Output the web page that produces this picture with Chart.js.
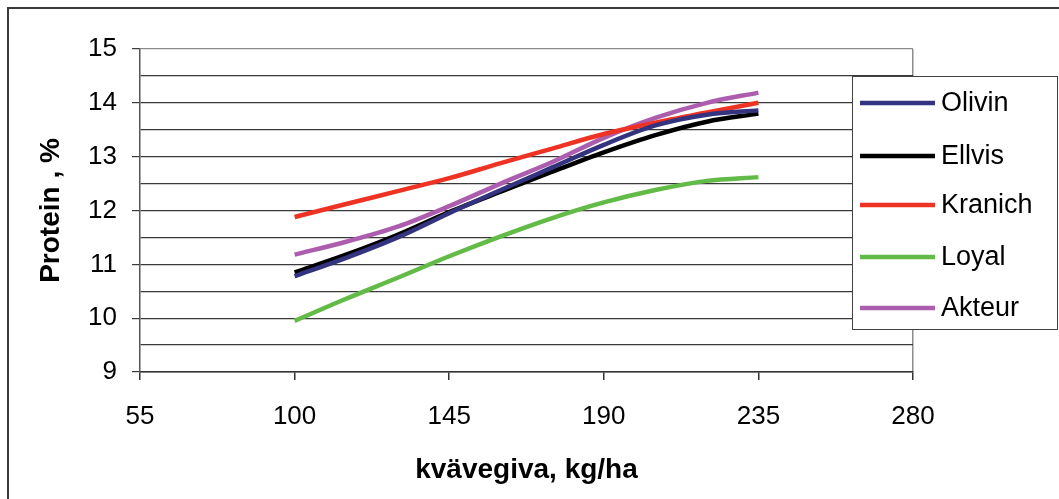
<!DOCTYPE html>
<html>
<head>
<meta charset="utf-8">
<script src="https://cdn.jsdelivr.net/npm/chart.js@4"></script>
<style>
  body { margin: 0; background: #fff; }
  canvas { display: block; }
</style>
</head>
<body>
<canvas id="proteinChart" width="1059" height="499"></canvas>
<script>
// kvävegiva (kg/ha) where values were read
const nitrogen = [100, 115, 130, 145, 160, 175, 190, 205, 220, 235];
const olivin  = [10.78, 11.12, 11.50, 11.95, 12.38, 12.80, 13.22, 13.58, 13.78, 13.86];
const ellvis  = [10.85, 11.18, 11.55, 11.97, 12.35, 12.72, 13.08, 13.40, 13.65, 13.80];
const kranich = [11.88, 12.12, 12.36, 12.60, 12.88, 13.15, 13.42, 13.63, 13.82, 14.00];
const loyal   = [9.95, 10.36, 10.75, 11.15, 11.52, 11.86, 12.15, 12.38, 12.55, 12.62];
const akteur  = [11.18, 11.42, 11.70, 12.08, 12.50, 12.90, 13.35, 13.72, 14.00, 14.19];
const seriesNames = ["Olivin", "Ellvis", "Kranich", "Loyal", "Akteur"];
const seriesColors = ["#33337f", "#000000", "#ee3325", "#61bb46", "#ad5dad"];
const xTicks = [55, 100, 145, 190, 235, 280];

const FONT = "'Liberation Sans', Arial, sans-serif";
const allSeries = [olivin, ellvis, kranich, loyal, akteur];

const datasets = allSeries.map((vals, i) => ({
    label: seriesNames[i],
    data: vals.map((v, j) => ({ x: nitrogen[j], y: v })),
    borderColor: seriesColors[i],
    backgroundColor: seriesColors[i],
    borderWidth: 4.5,
    pointRadius: 0,
    cubicInterpolationMode: 'monotone',
    fill: false
}));

// outer frame of the chart (only top and left are visible)
const framePlugin = {
    id: 'frame',
    beforeDraw(chart) {
        const c = chart.ctx;
        c.save();
        c.fillStyle = '#fff';
        c.fillRect(0, 0, chart.width, chart.height);
        c.strokeStyle = '#3a3a3a';
        c.lineWidth = 2;
        c.beginPath();
        c.moveTo(8, chart.height);
        c.lineTo(8, 8);
        c.lineTo(chart.width, 8);
        c.stroke();
        c.restore();
    }
};

// boxed legend sitting over the right side of the plot
const legendBox = {
    id: 'legendBox',
    afterDraw(chart) {
        const c = chart.ctx;
        const left = 852, top = 76, w = 205, h = 253;
        c.save();
        c.fillStyle = '#fff';
        c.fillRect(left, top, w, h);
        c.strokeStyle = '#404040';
        c.lineWidth = 1;
        c.strokeRect(left + 0.5, top + 0.5, w, h);
        const rows = [103, 156, 205, 257, 308];
        chart.data.datasets.forEach((ds, i) => {
            c.strokeStyle = ds.borderColor;
            c.lineWidth = 4.5;
            c.beginPath();
            c.moveTo(860, rows[i]);
            c.lineTo(935, rows[i]);
            c.stroke();
            c.fillStyle = '#000';
            c.font = '27px ' + FONT;
            c.textBaseline = 'middle';
            c.fillText(ds.label, 941, rows[i] + 1);
        });
        c.restore();
    }
};

new Chart(document.getElementById('proteinChart'), {
    type: 'line',
    data: { datasets: datasets },
    options: {
        responsive: false,
        animation: false,
        devicePixelRatio: 1,
        layout: { padding: { left: 0, right: 146, top: 49, bottom: 0 } },
        plugins: { legend: { display: false }, tooltip: { enabled: false } },
        scales: {
            x: {
                type: 'linear',
                min: 55,
                max: 280,
                afterBuildTicks: scale => { scale.ticks = xTicks.map(v => ({ value: v })); },
                afterFit: scale => { scale.height = 127; },
                ticks: { font: { family: FONT, size: 26 }, color: '#000', padding: 21, maxRotation: 0 },
                grid: {
                    color: ctx => (ctx.tick && ctx.tick.value === 280) ? '#8c8c8c' : 'rgba(0,0,0,0)',
                    tickColor: '#333',
                    tickLength: 8,
                    lineWidth: 1.5
                },
                border: { color: '#333', width: 1.5 },
                title: {
                    display: true,
                    text: 'kvävegiva, kg/ha',
                    font: { family: FONT, size: 28, weight: 'bold' },
                    color: '#000',
                    padding: { top: 0, bottom: 12 }
                }
            },
            y: {
                min: 9,
                max: 15,
                afterFit: scale => { scale.width = 140; },
                ticks: {
                    stepSize: 0.5,
                    maxTicksLimit: 20,
                    autoSkip: false,
                    font: { family: FONT, size: 26 },
                    color: '#000',
                    padding: 15,
                    callback: v => Number.isInteger(v) ? v : ''
                },
                grid: {
                    color: ctx => (ctx.tick && ctx.tick.value === 15) ? '#8c8c8c' : '#3a3a3a',
                    tickColor: ctx => (ctx.tick && Number.isInteger(ctx.tick.value)) ? '#3a3a3a' : 'rgba(0,0,0,0)',
                    tickLength: 8,
                    lineWidth: 1.2
                },
                border: { color: '#555', width: 1.5 },
                title: {
                    display: true,
                    text: 'Protein , %',
                    font: { family: FONT, size: 28, weight: 'bold' },
                    color: '#000',
                    padding: { top: 34, bottom: 0 }
                }
            }
        }
    },
    plugins: [framePlugin, legendBox]
});
</script>
</body>
</html>
